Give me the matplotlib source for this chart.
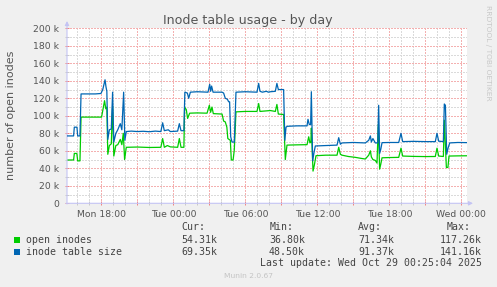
import matplotlib
matplotlib.use("Agg")
import matplotlib.pyplot as plt
from matplotlib.ticker import MultipleLocator, FixedLocator

# ---- data (hours relative to Tue 00:00, values in thousands) ----
size_t = [-8.86, -8.31, -8.25, -8.03, -7.97, -7.78, -7.69, -6.5, -6.03, -5.88, -5.69, -5.61,
          -5.54, -5.46, -5.33, -5.17, -5.06, -4.96, -4.79, -4.63, -4.42, -4.29, -4.14, -4.04,
          -3.92, -3.5, -3.0, -2.5, -2.0, -1.5, -1.04, -0.89, -0.75, -0.42, -0.25, 0.36, 0.5,
          0.64, 0.88, 0.96, 1.17, 1.28, 1.42, 2.0, 2.89, 3.03, 3.11, 3.19, 3.31, 4.06, 4.19,
          4.33, 4.5, 4.61, 4.69, 4.78, 4.89, 5.08, 5.22, 6.0, 6.97, 7.11, 7.22, 7.42, 7.75,
          7.92, 8.08, 8.5, 8.63, 8.75, 9.19, 9.29, 9.39, 9.5, 10.3, 11.14, 11.22, 11.33, 11.44,
          11.5, 11.61, 11.71, 11.83, 12.7, 13.64, 13.78, 13.92, 14.06, 15.0, 16.0, 16.28, 16.42,
          16.5, 16.63, 16.83, 17.03, 17.11, 17.19, 17.29, 17.39, 18.0, 18.78, 18.97, 19.11,
          20.0, 21.0, 21.83, 21.97, 22.11, 22.5, 22.58, 22.67, 22.78, 22.89, 23.03, 23.7, 24.42]
size_v = [77, 77, 87, 87, 77, 77, 125, 125, 125.5, 130, 141.16, 133,
          128, 73, 84, 85, 127, 70, 80, 84, 91, 84, 127, 72,
          82, 82.5, 82, 82.3, 81.8, 82.5, 82, 92, 83, 84, 82, 82.5, 91,
          83, 83, 127, 126, 120, 127, 127.5, 127, 136, 128, 134, 127, 127, 126,
          120, 119, 116, 116, 76, 70, 70, 127, 127.5, 127, 137, 128, 127, 128,
          127, 127.5, 128, 137, 130, 130, 72, 87, 88, 88.5, 88.5, 96, 90, 90,
          127.5, 48.5, 57, 65.5, 66, 66.5, 75, 67.5, 69, 69.5, 69, 72, 77,
          70, 74, 69, 69, 112, 57, 62, 69.3, 69.5, 69.5, 80, 70.5,
          70.8, 70.5, 70.5, 80, 71, 70.5, 113.5, 112, 56, 63, 69, 69.5, 69.35]

open_t = [-8.86, -8.31, -8.25, -8.04, -7.97, -7.78, -7.69, -6.5, -5.98, -5.88, -5.73, -5.63,
          -5.54, -5.46, -5.33, -5.17, -5.06, -4.96, -4.79, -4.63, -4.42, -4.29, -4.17, -4.06,
          -3.92, -3.0, -2.0, -1.04, -0.89, -0.75, -0.5, -0.25, 0.36, 0.5, 0.64, 0.88, 0.94,
          1.08, 1.19, 1.36, 2.0, 2.81, 3.0, 3.11, 3.22, 3.33, 4.06, 4.19, 4.33, 4.46, 4.54,
          4.75, 4.83, 4.98, 5.08, 5.22, 6.0, 6.97, 7.11, 7.22, 8.08, 8.5, 8.63, 8.75, 9.19,
          9.33, 9.47, 10.3, 11.14, 11.28, 11.38, 11.46, 11.5, 11.64, 11.75, 11.89, 12.7, 13.64,
          13.78, 13.92, 14.06, 14.58, 15.17, 15.58, 16.0, 16.28, 16.42, 16.5, 16.63, 16.83,
          16.97, 17.08, 17.19, 17.29, 17.39, 18.0, 18.78, 18.97, 19.11, 20.0, 21.0, 21.83,
          21.97, 22.11, 22.5, 22.58, 22.75, 22.88, 22.97, 23.7, 24.42]
open_v = [49.5, 49.5, 57, 57, 48.5, 48.5, 98.5, 98.5, 98.5, 106, 117.26, 108,
          110, 56, 66, 68, 111, 54, 66, 67, 73, 67, 80, 50,
          64, 64.3, 63.8, 64, 74, 64, 66, 64.5, 64, 74, 64, 64, 110,
          107, 97, 103, 103.3, 103, 112, 104, 110, 102.5, 102, 94, 93, 87, 74,
          72, 49.5, 49.5, 61, 104.5, 105, 105, 114, 105, 106, 105, 113, 102, 101.5,
          50, 66.5, 66.8, 67, 76, 69, 70, 86, 36.8, 43.8, 54.4, 55, 55,
          64, 56, 55, 53.5, 52.5, 51.5, 50.6, 55, 60, 53, 50, 49,
          46, 90, 39, 45, 52, 52.3, 52.5, 63, 54, 53.6, 53.4, 53.5,
          63, 54, 53.5, 95, 41, 41, 54, 54.2, 54.31]

x_tick_hours = [-6, 0, 6, 12, 18, 24]
x_tick_labels = ["Mon 18:00", "Tue 00:00", "Tue 06:00", "Tue 12:00", "Tue 18:00", "Wed 00:00"]
y_ticks = [0, 20, 40, 60, 80, 100, 120, 140, 160, 180, 200]
y_tick_labels = ["0", "20 k", "40 k", "60 k", "80 k", "100 k", "120 k", "140 k", "160 k", "180 k", "200 k"]

series_names = ["open inodes", "inode table size"]
series_colors = ["#00cc00", "#0066b3"]
stat_cur = ["54.31k", "69.35k"]
stat_min = ["36.80k", "48.50k"]
stat_avg = ["71.34k", "91.37k"]
stat_max = ["117.26k", "141.16k"]

W, H = 497, 287
fig = plt.figure(figsize=(W / 100, H / 100), dpi=100)
fig.patch.set_facecolor("#f0f0f0")

def fx(px):
    return px / W

def fy(py):
    return 1 - py / H

ax = fig.add_axes([fx(67), fy(203.3), 400 / W, 175 / H])
ax.set_facecolor("white")
ax.set_xlim(-8.86, 24.47)
ax.set_ylim(0, 200)

for s in ax.spines.values():
    s.set_visible(False)

# grid
ax.xaxis.set_minor_locator(MultipleLocator(1))
ax.xaxis.set_major_locator(MultipleLocator(3))
ax.yaxis.set_minor_locator(MultipleLocator(10))
ax.yaxis.set_major_locator(FixedLocator(y_ticks))
ax.grid(which="minor", color="#dadada", linestyle=(0, (1.4, 1.4)), linewidth=0.72, antialiased=False)
ax.grid(which="major", color="#f4b0b0", linestyle=(0, (1.4, 1.4)), linewidth=0.72, antialiased=False)
ax.set_axisbelow(True)

# x labels only every 6 h
major_x = [h for h in range(-6, 25, 3)]
ax.set_xticks(major_x)
ax.set_xticklabels([x_tick_labels[x_tick_hours.index(h)] if h in x_tick_hours else "" for h in major_x])
ax.set_yticks(y_ticks)
ax.set_yticklabels(y_tick_labels)

ax.tick_params(axis="both", which="major", direction="inout", length=3, width=0.7,
               color="#f08080", labelsize=6.7, labelcolor="#555555")
ax.tick_params(axis="both", which="minor", direction="inout", length=2.5, width=0.7,
               color="#c8c8c8")
ax.tick_params(axis="x", which="major", pad=3)
ax.tick_params(axis="y", which="major", pad=4)

# data lines
ax.plot(open_t, open_v, color=series_colors[0], linewidth=0.9, zorder=3)
ax.plot(size_t, size_v, color=series_colors[1], linewidth=0.9, zorder=4)

# axis lines with arrows
axis_col = "#c4c4f4"
ax.annotate("", xy=(fx(473), fy(203.3)), xytext=(fx(66), fy(203.3)), xycoords="figure fraction",
            textcoords="figure fraction",
            arrowprops=dict(arrowstyle="-|>", color=axis_col, lw=0.8, mutation_scale=6,
                            shrinkA=0, shrinkB=0))
ax.annotate("", xy=(fx(67), fy(21)), xytext=(fx(67), fy(204)), xycoords="figure fraction",
            textcoords="figure fraction",
            arrowprops=dict(arrowstyle="-|>", color=axis_col, lw=0.8, mutation_scale=6,
                            shrinkA=0, shrinkB=0))

# title and side texts
fig.text(fx(248), fy(24), "Inode table usage - by day", ha="center", va="baseline",
         fontsize=9.1, color="#555555", family="DejaVu Sans")
fig.text(fx(11), fy(115), "number of open inodes", rotation=90, ha="center", va="center",
         fontsize=8.0, color="#555555", family="DejaVu Sans")
fig.text(fx(488), fy(53), "RRDTOOL / TOBI OETIKER", rotation=270, ha="center", va="center",
         fontsize=5.4, color="#c8c8c8", family="DejaVu Sans")
fig.text(fx(248), fy(276), "Munin 2.0.67", ha="center", va="center",
         fontsize=5.4, color="#c4c4c4", family="DejaVu Sans")

# legend
mono = dict(family="DejaVu Sans Mono", fontsize=7.1, color="#444444")
col_right = [217, 305, 394, 482]
col_left = [181, 270, 358, 447]
headers = ["Cur:", "Min:", "Avg:", "Max:"]
for xl, hd in zip(col_left, headers):
    fig.text(fx(xl), fy(227.3), hd, ha="left", va="center", **mono)
rows_y = [239.7, 251.7]
for i, name in enumerate(series_names):
    y = rows_y[i]
    fig.patches.append(plt.Rectangle((fx(14), fy(y + 3)), 6 / W, 6 / H,
                                     transform=fig.transFigure, facecolor=series_colors[i],
                                     edgecolor="none"))
    fig.text(fx(26.3), fy(y), name, ha="left", va="center", **mono)
    for xr, val in zip(col_right, [stat_cur[i], stat_min[i], stat_avg[i], stat_max[i]]):
        fig.text(fx(xr), fy(y), val, ha="right", va="center", **mono)
fig.text(fx(482.3), fy(263.3), "Last update: Wed Oct 29 00:25:04 2025", ha="right", va="center", **mono)

fig.savefig("out.png", dpi=100, facecolor=fig.get_facecolor())
